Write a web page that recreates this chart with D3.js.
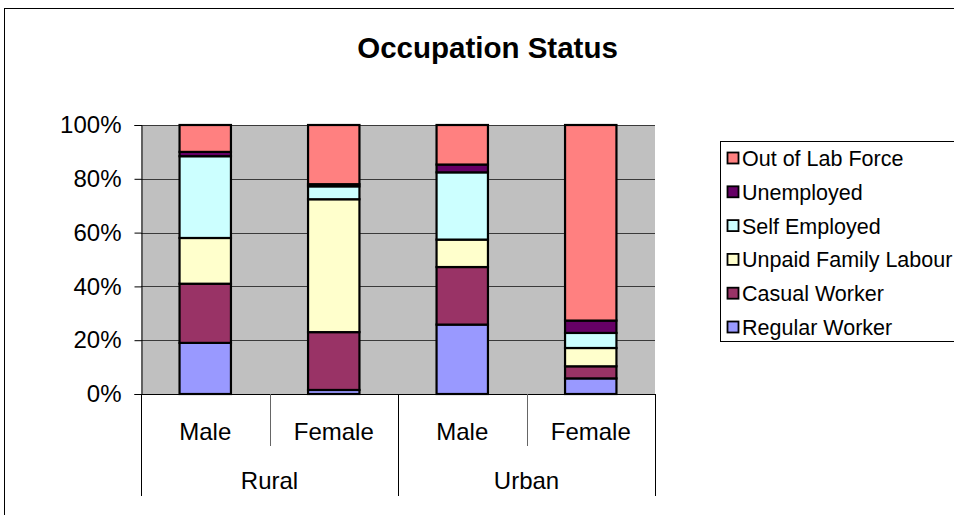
<!DOCTYPE html>
<html><head><meta charset="utf-8">
<script src="https://cdn.jsdelivr.net/npm/d3@7"></script>
<style>body{margin:0;background:#fff;}svg{display:block;font-family:"Liberation Sans",Arial,sans-serif;}</style>
</head><body>
<svg id="c" width="954" height="515"></svg>
<script>
const groups = ["Rural", "Urban"];
const genders = ["Male", "Female"];
const categories = ["Rural|Male", "Rural|Female", "Urban|Male", "Urban|Female"];
const seriesNames = ["Regular Worker", "Casual Worker", "Unpaid Family Labour", "Self Employed", "Unemployed", "Out of Lab Force"];
const seriesColors = ["#9999FF", "#993366", "#FFFFCC", "#CCFFFF", "#660066", "#FF8080"];
const regularWorker = [19.0, 1.5, 25.8, 5.8];
const casualWorker = [22.0, 21.5, 21.4, 4.5];
const unpaidFamily = [17.0, 49.4, 10.2, 6.8];
const selfEmployed = [30.4, 4.8, 25.0, 5.6];
const unemployed = [1.6, 0.8, 2.9, 4.6];
const outOfLabForce = [10.0, 22.0, 14.7, 72.7];
const yTicks = [0, 20, 40, 60, 80, 100];
const title = "Occupation Status";

const seriesValues = [regularWorker, casualWorker, unpaidFamily, selfEmployed, unemployed, outOfLabForce];
const table = categories.map((c, i) => {
  const row = {cat: c};
  seriesNames.forEach((s, j) => row[s] = seriesValues[j][i]);
  return row;
});
const stacked = d3.stack().keys(seriesNames)(table);

const svg = d3.select("#c");
const W = 954, H = 515;
const m = {left: 141, right: 655, top: 125, bottom: 394};

// chart border
svg.append("rect").attr("x", 4.5).attr("y", 8.5).attr("width", W + 10).attr("height", H + 10)
  .attr("fill", "#fff").attr("stroke", "#000").attr("stroke-width", 1);

svg.append("text").attr("x", 487.5).attr("y", 58).attr("text-anchor", "middle")
  .attr("font-size", 29.5).attr("font-weight", "bold").text(title);

const x = d3.scaleBand().domain(categories).range([m.left, m.right]).paddingInner(0.6).paddingOuter(0.3);
const xOuter = d3.scaleBand().domain(categories).range([m.left, m.right]);
const y = d3.scaleLinear().domain([0, 100]).range([m.bottom, m.top]);

svg.append("rect").attr("x", m.left).attr("y", m.top).attr("width", m.right - m.left)
  .attr("height", m.bottom - m.top).attr("fill", "#C0C0C0");

// gridlines
svg.append("g").selectAll("line").data(yTicks).join("line")
  .attr("x1", m.left).attr("x2", m.right)
  .attr("y1", d => Math.round(y(d)) + 0.5).attr("y2", d => Math.round(y(d)) + 0.5)
  .attr("stroke", "#3a3a3a").attr("stroke-width", 1);

// y axis
const yAxis = d3.axisLeft(y).tickValues(yTicks).tickFormat(d => d + "%").tickSize(7).tickPadding(13);
const ya = svg.append("g").attr("transform", `translate(${m.left + 0.5},0)`).call(yAxis);
ya.select(".domain").attr("stroke", "#000");
ya.selectAll("line").attr("stroke", "#000");
ya.selectAll("text").attr("font-size", 24).attr("fill", "#000").attr("font-family", "Liberation Sans, Arial, sans-serif");

// bars
svg.append("g").selectAll("g").data(stacked).join("g")
  .attr("fill", (d, i) => seriesColors[i])
  .selectAll("rect").data(d => d).join("rect")
  .attr("x", d => x(d.data.cat)).attr("width", x.bandwidth())
  .attr("y", d => y(d[1])).attr("height", d => y(d[0]) - y(d[1]))
  .attr("stroke", "#000").attr("stroke-width", 2.2);

// x axis line
svg.append("line").attr("x1", m.left).attr("x2", m.right).attr("y1", m.bottom + 0.5).attr("y2", m.bottom + 0.5).attr("stroke", "#000");

// multi-level category axis
const xa = svg.append("g");
categories.forEach((c, i) => {
  const x0 = xOuter(c);
  const [grp, g] = c.split("|");
  xa.append("text").attr("x", x0 + xOuter.bandwidth() / 2).attr("y", 439.5).attr("text-anchor", "middle")
    .attr("font-size", 24).text(g);
  if (i % 2 === 1) {
    xa.append("line").attr("x1", Math.round(x0) + 0.5).attr("x2", Math.round(x0) + 0.5).attr("y1", m.bottom).attr("y2", 446).attr("stroke", "#666");
  }
});
groups.forEach((g, gi) => {
  const x0 = xOuter(categories[gi * 2]);
  const x1 = xOuter(categories[gi * 2 + 1]) + xOuter.bandwidth();
  xa.append("text").attr("x", (x0 + x1) / 2).attr("y", 488.5).attr("text-anchor", "middle")
    .attr("font-size", 24).text(g);
  xa.append("line").attr("x1", Math.round(x0) + 0.5).attr("x2", Math.round(x0) + 0.5).attr("y1", m.bottom).attr("y2", 496).attr("stroke", "#000");
  if (gi === groups.length - 1) {
    xa.append("line").attr("x1", Math.round(x1) + 0.5).attr("x2", Math.round(x1) + 0.5).attr("y1", m.bottom).attr("y2", 496).attr("stroke", "#000");
  }
});

// legend
const lg = svg.append("g");
lg.append("rect").attr("x", 720.5).attr("y", 141.5).attr("width", 260).attr("height", 200)
  .attr("fill", "#fff").attr("stroke", "#000");
const legendOrder = seriesNames.map((s, i) => i).reverse();
legendOrder.forEach((si, k) => {
  const yy = 158 + k * 33.8;
  lg.append("rect").attr("x", 727.5).attr("y", yy - 5.5).attr("width", 11).attr("height", 11)
    .attr("fill", seriesColors[si]).attr("stroke", "#000").attr("stroke-width", 1.8);
  lg.append("text").attr("x", 742).attr("y", yy + 8).attr("font-size", 21.5).text(seriesNames[si]);
});
</script>
</body></html>
